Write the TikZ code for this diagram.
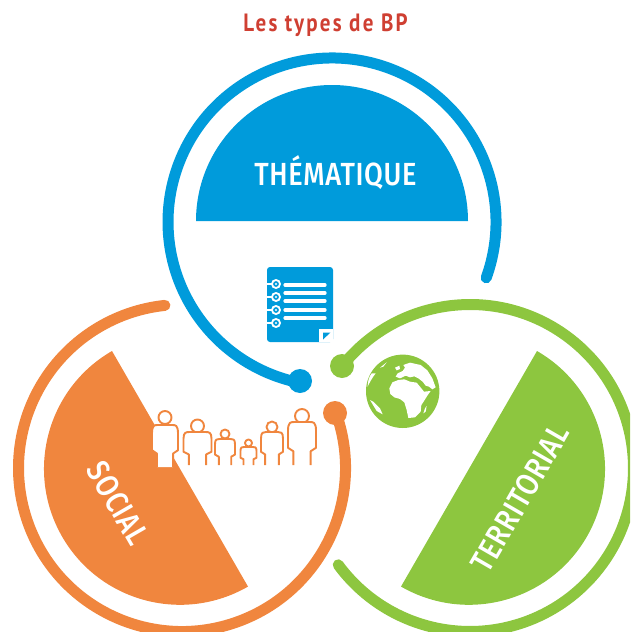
\documentclass[tikz,border=0pt]{standalone}
\usepackage{fontspec}
\setmainfont{PT Sans}
\usepackage{xcolor}
\definecolor{bleuBP}{HTML}{009BDB}
\definecolor{orangeBP}{HTML}{F0863E}
\definecolor{vertBP}{HTML}{8DC63F}
\definecolor{rougeBP}{HTML}{CF3F32}
\newfontfamily\labelfont[FakeStretch=.85,LetterSpace=2]{Fira Sans Medium}
\newfontfamily\titlefont[FakeStretch=.84,LetterSpace=9]{PT Sans Bold}
\newcommand{\person}[6]{% cx, head y, head r, half width, top, bottom
  \draw[people,fill=white] (#1,#2) circle (#3);
  \draw[people,fill=white] ({#1-#4*.62},#6)
    -- ({#1-#4*.62},{#5+(#6-#5)*.68}) -- ({#1-#4},{#5+(#6-#5)*.6})
    -- ({#1-#4},{#5+(#6-#5)*.2})
    .. controls ({#1-#4},#5) and ({#1-#4*.8},#5) .. ({#1-#4*.55},#5)
    -- ({#1+#4*.55},#5)
    .. controls ({#1+#4*.8},#5) and ({#1+#4},#5) .. ({#1+#4},{#5+(#6-#5)*.2})
    -- ({#1+#4},{#5+(#6-#5)*.6}) -- ({#1+#4*.62},{#5+(#6-#5)*.68})
    -- ({#1+#4*.62},#6);
}
\begin{document}
\begin{tikzpicture}[
    x=1pt,y=-1pt,
    ring/.style={line width=11pt,line cap=round},
    people/.style={draw=orangeBP,line width=1.9pt,line join=round},
    labeltext/.style={text=white,font=\labelfont\fontsize{32}{32}\selectfont,inner sep=0pt},
  ]
  \useasboundingbox (0,0) rectangle (630,632);
  \clip (0,0) rectangle (630,632);

  % half discs
  \fill[bleuBP] (196,221) arc[start angle=180,end angle=360,radius=136] -- cycle;
  \fill[orangeBP] (112,351) arc[start angle=240,end angle=60,radius=136] -- cycle;
  \fill[vertBP] (537,351) arc[start angle=-60,end angle=120,radius=136] -- cycle;

  % rings
  \draw[ring,bleuBP] (332,222) ++(19.9:164) arc[start angle=19.9,end angle=-258.6,radius=164];
  \draw[ring,orangeBP] (182,468) ++(-20.1:163.5) arc[start angle=-20.1,end angle=264,radius=163.5];
  \draw[ring,vertBP] (470,468) ++(-141.5:163.5) arc[start angle=-141.5,end angle=143.7,radius=163.5];
  \fill[bleuBP] (300,381) circle (12);
  \fill[orangeBP] (335,413) circle (12);
  \fill[vertBP] (342,366) circle (12);

  % texts
  \node[text=rougeBP,font=\titlefont\fontsize{25}{25}\selectfont,inner sep=0pt] (titre) at (325.5,25) {Les types de BP};
  \node[labeltext] (thematique) at (335.5,173) {THÉMATIQUE};
  \node[labeltext,rotate=-60] (social) at (118,503) {SOCIAL};
  \node[labeltext,rotate=60] (territorial) at (520,498) {TERRITORIAL};

  % document
  \fill[bleuBP,rounded corners=3pt] (267,267) rectangle (333,342);
  \fill[white] (319,342) -- (319,329) -- (333,329) -- (333,342) -- cycle;
  \fill[bleuBP] (323,332.5) -- (330.5,332.5) -- (323,339.5) -- cycle;
  \foreach \y in {285,293,301,310,318}
    \draw[white,line width=3.2pt,line cap=round] (285,\y) -- (325,\y);
  \foreach \y in {284,297,310,323} {
    \draw[white,line width=1.8pt] (267,\y) -- (273,\y);
    \fill[white] (276,\y) circle (5);
    \fill[bleuBP] (276,\y) circle (2.9);
    \fill[white] (276,\y) circle (1.2);
  }

  % globe
  \fill[vertBP] (402.7,391.3) circle (36.7);
  \begin{scope}[shift={(355,345)},scale=1/3,white]
    \fill (103,130) -- (112,112) -- (130,105) -- (148,103) -- (165,110) -- (185,113) -- (195,125)
      -- (207,140) -- (227,138) -- (217,152) -- (207,168) -- (199,180) -- (197,200) -- (180,217)
      -- (160,219) -- (155,195) -- (148,172) -- (135,162) -- (118,157) -- (106,147) -- cycle;
    \fill (122,95) -- (128,85) -- (143,78) -- (150,68) -- (145,60) -- (165,53) -- (197,60)
      -- (217,76) -- (232,100) -- (242,127) -- (232,133) -- (222,125) -- (212,122) -- (203,110)
      -- (190,100) -- (178,94) -- (165,97) -- (152,92) -- (135,100) -- cycle;
    \fill (120,68) -- (133,62) -- (135,72) -- (125,76) -- cycle;
    \fill (210,190) -- (215,183) -- (212,200) -- (205,205) -- cycle;
    \fill (50,85) .. controls (42,95) and (38,110) .. (38,125) .. controls (45,110) and (52,98) .. (62,85) -- cycle;
    \fill (75,68) -- (95,52) -- (85,65) -- cycle;
    \fill (45,165) -- (55,170) -- (75,190) -- (83,208) -- (65,198) -- cycle;
  \end{scope}

  % family
  \person{165}{417.5}{6.5}{13}{425}{467}
  \person{197.5}{426}{6.5}{14}{432}{465}
  \person{225}{434}{4.5}{10}{439}{465}
  \person{248.5}{443}{3.5}{8}{447}{465}
  \person{272}{427}{5.5}{11}{432}{465}
  \person{302}{416}{7}{14}{422}{465}
\end{tikzpicture}
\end{document}
